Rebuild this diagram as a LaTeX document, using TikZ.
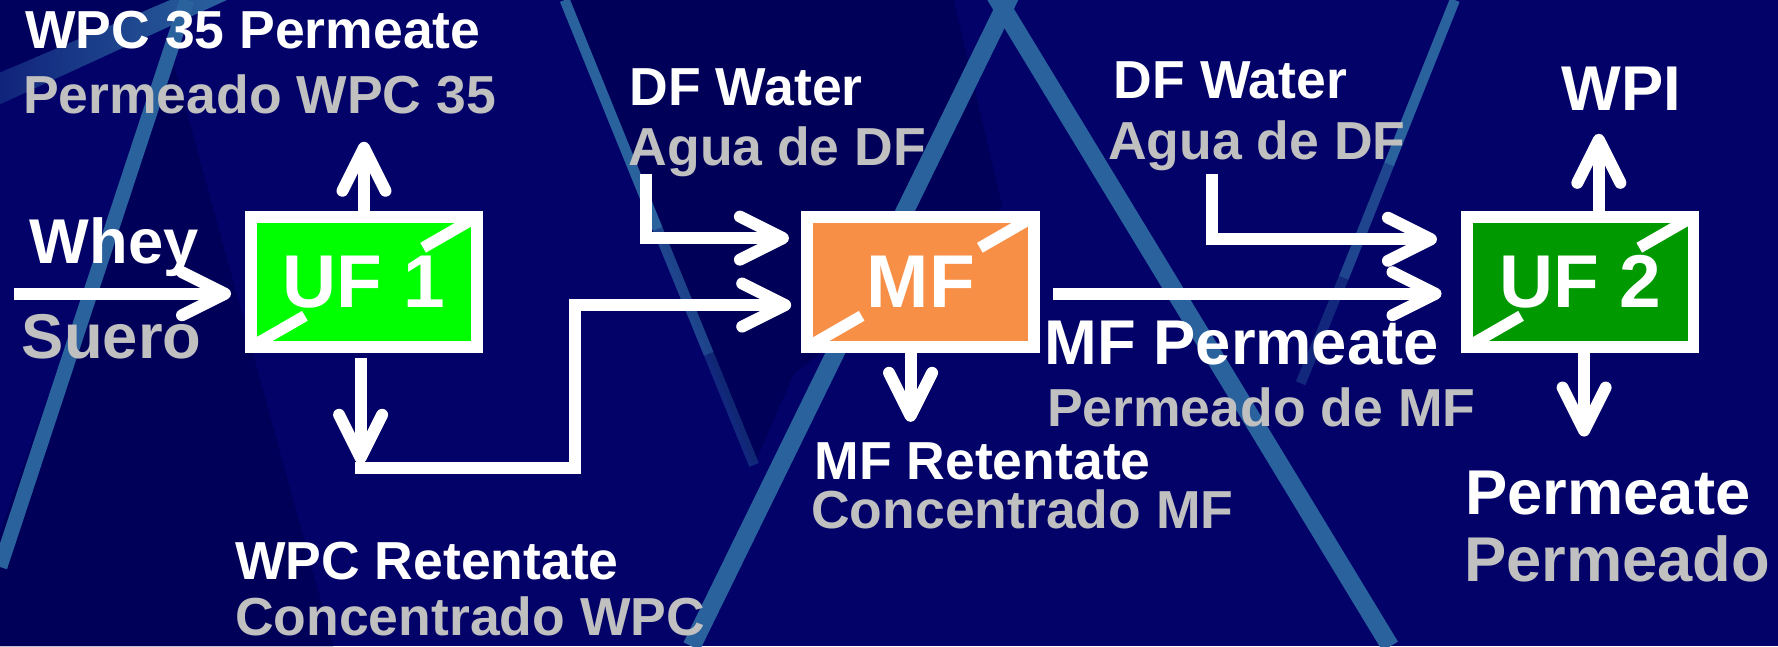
\documentclass[tikz,border=0pt]{standalone}
\usepackage{fontspec}
\setmainfont{Liberation Sans}
\usetikzlibrary{arrows.meta,calc}
\definecolor{bgnavy}{RGB}{2,2,104}
\definecolor{bgdark}{RGB}{0,0,84}
\definecolor{streak}{RGB}{42,98,158}
\definecolor{lbl}{RGB}{192,192,192}
\definecolor{ufone}{RGB}{0,255,0}
\definecolor{mfor}{RGB}{247,143,70}
\definecolor{uftwo}{RGB}{0,153,0}
\begin{document}
\begin{tikzpicture}[x=0.5pt,y=-0.5pt,
  flow/.style={draw=white,line width=5.25pt,line join=miter},
  arr/.style={flow,-{Straight Barb[length=19pt,width=19pt,round]}},
  box/.style={draw=white,line width=5.25pt,minimum width=100pt,minimum height=57.5pt,inner sep=0pt},
  boxtxt/.style={inner sep=0pt,text=white,font=\fontsize{33pt}{36pt}\selectfont\bfseries},
  slash/.style={draw=white,line width=5pt},
  lblA/.style={anchor=base west,inner sep=0pt,font=\fontsize{23.6pt}{26pt}\selectfont\bfseries},
  lblB/.style={anchor=base west,inner sep=0pt,font=\fontsize{27.9pt}{30pt}\selectfont\bfseries},
  en/.style={text=white},
  es/.style={text=lbl},
  bgline/.style={draw=streak,line cap=butt}
]
\useasboundingbox (0,0) rectangle (1568,570);
% ---------- background ----------
\begin{scope}
\clip (0,0) rectangle (1568,570);
\fill[bgnavy] (0,0) rectangle (1568,570);
\fill[bgdark,opacity=0.7] (150,45) -- (294,570) -- (0,570) -- (0,470) -- cycle;
\fill[bgdark,opacity=0.7] (498,0) -- (841,0) -- (884,182) -- (700,330) -- (665,410) -- cycle;
\fill[bgdark,opacity=0.5] (0,0) -- (190,0) -- (0,62) -- cycle;
\shade[left color=streak!35!bgnavy,right color=streak] (0,64) -- (150,0) -- (200,0) -- (0,92) -- cycle;
\draw[bgline,line width=6.5pt] (165,0) -- (0,500);
\draw[bgline,line width=8pt] (894,-10) -- (610,570);
\draw[bgline,line width=8pt] (874,-10) -- (1226,570);
\draw[bgline,line width=4.5pt] (498,0) -- (580,202);
\draw[bgline,line width=4.5pt,opacity=0.7] (580,202) -- (625,312);
\draw[bgline,line width=4.5pt,opacity=0.4] (625,312) -- (665,410);
\draw[bgline,line width=4.5pt] (1283,0) -- (1225,145);
\draw[bgline,line width=4.5pt,opacity=0.7] (1225,145) -- (1185,245);
\draw[bgline,line width=4.5pt,opacity=0.4] (1185,245) -- (1147,338);
\end{scope}
% ---------- boxes ----------
\node[box,fill=ufone] (uf1) at (321,248.5) {};
\node[box,fill=mfor] (mf) at (812,248.5) {};
\node[box,fill=uftwo] (uf2) at (1393.5,248.5) {};
\foreach \b in {uf1,mf,uf2} {
  \coordinate (\b-p) at ($(\b.south west)+(5,-5)$);
  \coordinate (\b-q) at ($(\b.north east)+(-5,5)$);
  \draw[slash] (\b-p) -- ($(\b-p)!0.24!(\b-q)$);
  \draw[slash] ($(\b-p)!0.76!(\b-q)$) -- (\b-q);
}
\node[boxtxt] (uf1t) at (uf1) {UF 1};
\node[boxtxt] (mft) at (mf) {MF};
\node[boxtxt] (uf2t) at (uf2) {UF 2};
% ---------- connectors ----------
\coordinate (wst) at (12,259);
\coordinate (wend) at ($(uf1.west|-wst)+(-12,0)$);
\draw[arr] (wst) -- (wend);
\coordinate (u1top) at (321,125);
\draw[arr] (uf1.north) -- (u1top);
\coordinate (u1a) at (318,316);
\coordinate (u1b) at (318,409);
\draw[arr] (u1a) -- (u1b);
\coordinate (r0) at (313,413);
\coordinate (r1) at (507,413);
\draw[arr] (r0) -- (r1) |- ($(mf.west)+(-9,20.5)$);
\coordinate (d1) at (570,153);
\draw[arr] (d1) |- ($(mf.west)+(-11,-38.5)$);
\coordinate (m2) at (803,372);
\draw[arr] (mf.south -| m2) -- (m2);
\draw[arr] ($(mf.east)+(11,10.5)$) -- ($(uf2.west)+(-17,10.5)$);
\coordinate (d2) at (1069,153);
\draw[arr] (d2) |- ($(uf2.west)+(-21,-37.5)$);
\coordinate (u2t) at (1410,118);
\draw[arr] (uf2.north -| u2t) -- (u2t);
\coordinate (u2b) at (1397,385);
\draw[arr] (uf2.south -| u2b) -- (u2b);
% ---------- labels ----------
\node[lblA,en] (t1) at (22,43) {WPC 35 Permeate};
\node[lblA,es] (t2) at (20,100) {Permeado WPC 35};
\node[lblB,en] (whey) at (26,232) {Whey};
\node[lblB,es] (suero) at (19,316) {Suero};
\node[lblA,en] (df1) at (555,93) {DF Water};
\node[lblA,es] (ag1) at (554,146) {Agua de DF};
\node[lblA,en] (df2) at (982,87) {DF Water};
\node[lblA,es] (ag2) at (977,141) {Agua de DF};
\node[lblB,en] (wpi) at (1377,97) {WPI};
\node[lblB,en] (mfp) at (921,321) {MF Permeate};
\node[lblA,es] (mfp2) at (923,376) {Permeado de MF};
\node[lblA,en] (mfr) at (718,423) {MF Retentate};
\node[lblA,es] (mfr2) at (715,466) {Concentrado MF};
\node[lblA,en] (wpcr) at (207,511) {WPC Retentate};
\node[lblA,es] (wpcr2) at (207,560) {Concentrado WPC};
\node[lblB,en] (perm) at (1292,454) {Permeate};
\node[lblB,es] (perm2) at (1291,513) {Permeado};
\end{tikzpicture}
\end{document}
